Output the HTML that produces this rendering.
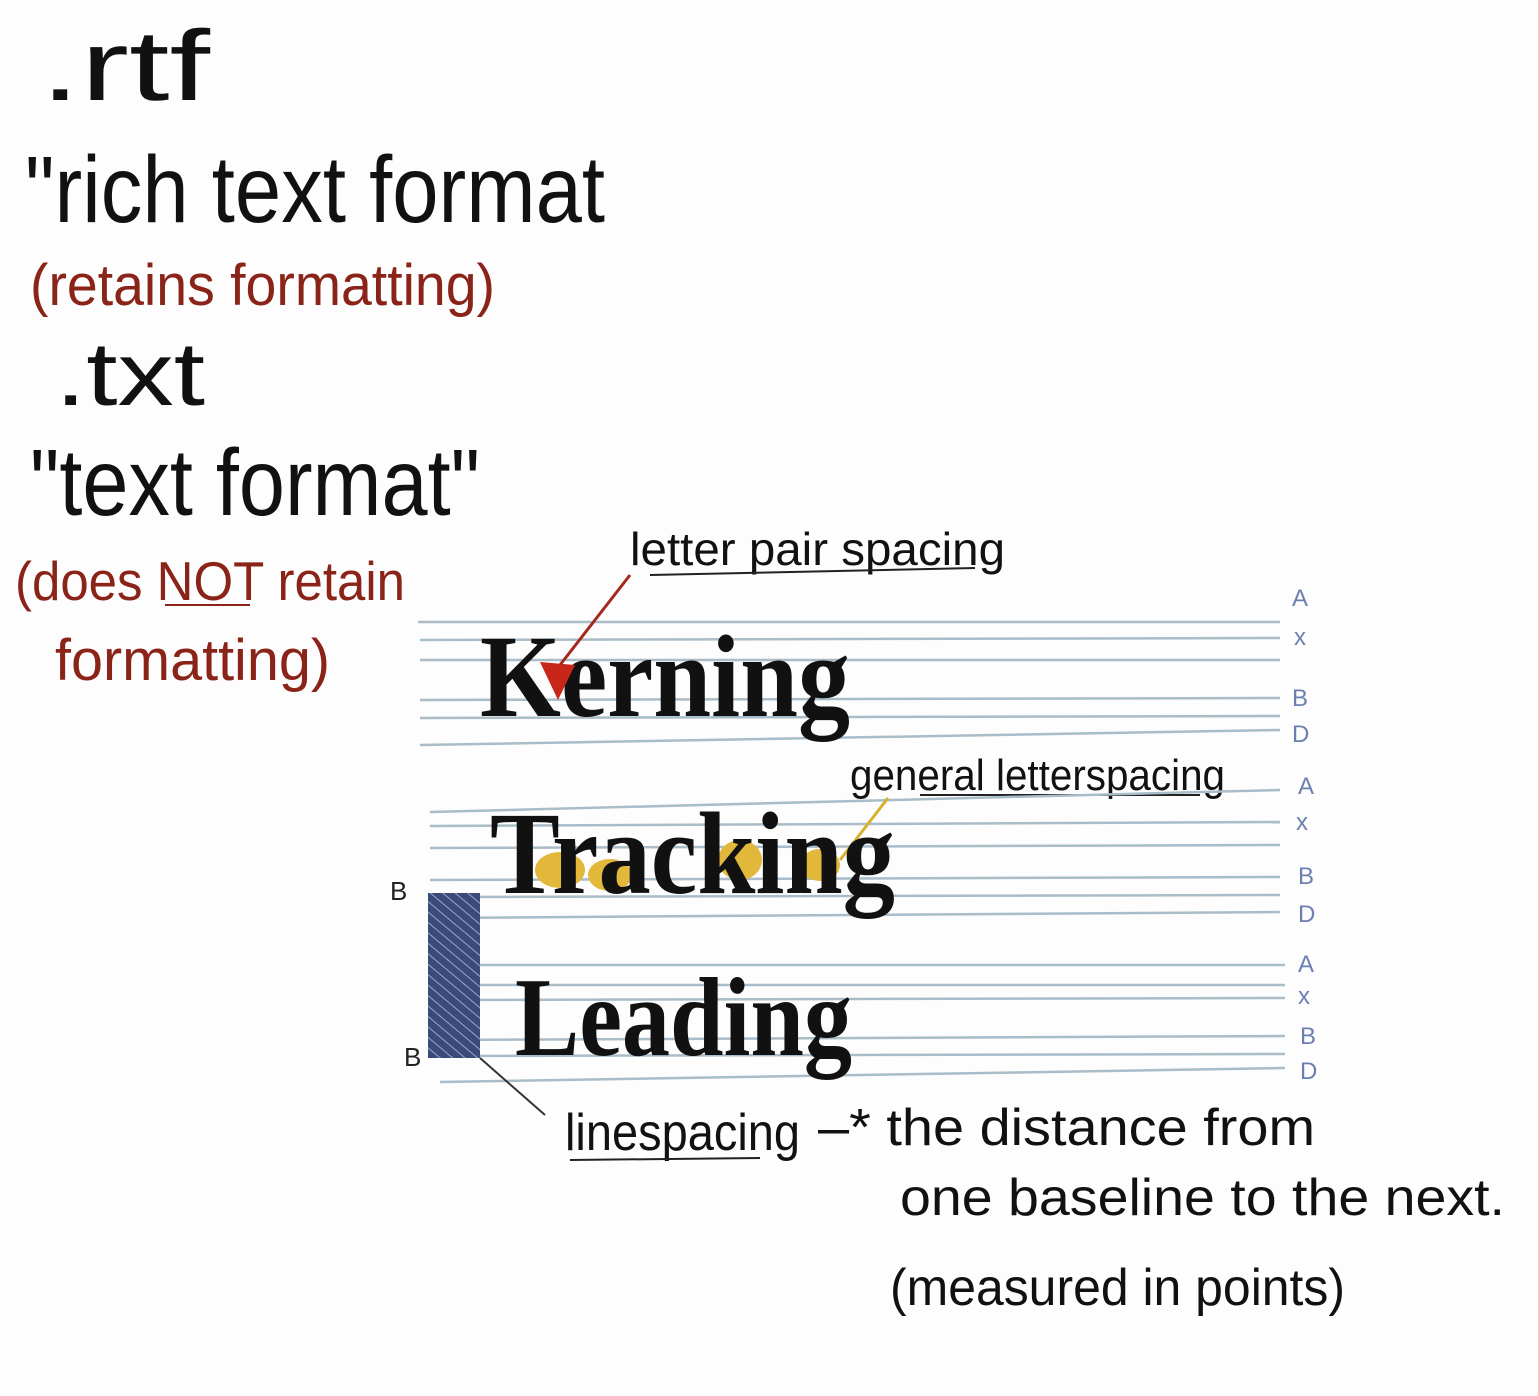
<!DOCTYPE html>
<html><head><meta charset="utf-8"><style>html,body{margin:0;padding:0;background:#fff}svg{display:block}</style></head>
<body>
<svg width="1538" height="1396" viewBox="0 0 1538 1396" xmlns="http://www.w3.org/2000/svg">
<rect width="1538" height="1396" fill="#fdfdfd"/>
<defs>
<pattern id="hatch" width="8" height="8" patternUnits="userSpaceOnUse" patternTransform="rotate(-50)">
<rect width="8" height="8" fill="#3a4a7a"/><line x1="0" y1="0" x2="0" y2="8" stroke="#9aa6c8" stroke-width="2"/>
</pattern>
</defs>
<g font-family="Liberation Sans, sans-serif" fill="#111">
<text x="40" y="100" font-size="100" textLength="170" lengthAdjust="spacingAndGlyphs">.rtf</text>
<text x="25" y="222" font-size="95" textLength="580" lengthAdjust="spacingAndGlyphs">"rich text format</text>
<text x="30" y="305" font-size="58" fill="#8a2318" textLength="465" lengthAdjust="spacingAndGlyphs">(retains formatting)</text>
<text x="55" y="405" font-size="90" textLength="150" lengthAdjust="spacingAndGlyphs">.txt</text>
<text x="30" y="515" font-size="95" textLength="450" lengthAdjust="spacingAndGlyphs">"text format"</text>
<text x="15" y="600" font-size="55" fill="#8a2318" textLength="390" lengthAdjust="spacingAndGlyphs">(does NOT retain</text>
<text x="55" y="680" font-size="58" fill="#8a2318" textLength="275" lengthAdjust="spacingAndGlyphs">formatting)</text>
<text x="630" y="565" font-size="46" textLength="375" lengthAdjust="spacingAndGlyphs">letter pair spacing</text>
<text x="850" y="790" font-size="44" textLength="375" lengthAdjust="spacingAndGlyphs">general letterspacing</text>
<text x="565" y="1150" font-size="52" textLength="235" lengthAdjust="spacingAndGlyphs">linespacing</text>
<text x="818" y="1145" font-size="52" textLength="497" lengthAdjust="spacingAndGlyphs">–* the distance from</text>
<text x="900" y="1215" font-size="52" textLength="605" lengthAdjust="spacingAndGlyphs">one baseline to the next.</text>
<text x="890" y="1305" font-size="52" textLength="455" lengthAdjust="spacingAndGlyphs">(measured in points)</text>
</g>
<g stroke="#222" stroke-width="2">
<line x1="165" y1="605" x2="250" y2="605" stroke="#8a2318"/>
<line x1="650" y1="575" x2="975" y2="568"/>
<line x1="920" y1="795" x2="1200" y2="795"/>
<line x1="570" y1="1160" x2="760" y2="1158"/>
</g>
<g stroke="#a9bcc8" stroke-width="2.5">
<line x1="418" y1="622" x2="1280" y2="622"/><line x1="420" y1="640" x2="1280" y2="638"/><line x1="420" y1="660" x2="1280" y2="660"/>
<line x1="420" y1="700" x2="1280" y2="698"/><line x1="420" y1="718" x2="1280" y2="716"/><line x1="420" y1="745" x2="1280" y2="730"/>
<line x1="430" y1="812" x2="1280" y2="790"/><line x1="430" y1="826" x2="1280" y2="822"/><line x1="430" y1="848" x2="1280" y2="845"/>
<line x1="430" y1="880" x2="1280" y2="877"/><line x1="430" y1="897" x2="1280" y2="895"/><line x1="430" y1="918" x2="1280" y2="912"/>
<line x1="440" y1="965" x2="1285" y2="965"/><line x1="440" y1="985" x2="1285" y2="985"/><line x1="440" y1="1000" x2="1285" y2="998"/>
<line x1="440" y1="1040" x2="1285" y2="1036"/><line x1="440" y1="1056" x2="1285" y2="1054"/><line x1="440" y1="1082" x2="1285" y2="1068"/>
</g>
<g font-family="Liberation Sans, sans-serif" font-size="24" fill="#6c7fb0">
<text x="1292" y="606">A</text><text x="1294" y="645">x</text><text x="1292" y="706">B</text><text x="1292" y="742">D</text>
<text x="1298" y="794">A</text><text x="1296" y="830">x</text><text x="1298" y="884">B</text><text x="1298" y="922">D</text>
<text x="1298" y="972">A</text><text x="1298" y="1004">x</text><text x="1300" y="1044">B</text><text x="1300" y="1079">D</text>
</g>
<rect x="428" y="893" width="52" height="165" fill="url(#hatch)"/>
<g font-family="Liberation Sans, sans-serif" font-size="26" fill="#222"><text x="390" y="900">B</text><text x="404" y="1066">B</text></g>
<line x1="480" y1="1058" x2="545" y2="1115" stroke="#333" stroke-width="2"/>
<ellipse cx="560" cy="870" rx="25" ry="18" fill="#e2b83a"/><ellipse cx="610" cy="875" rx="22" ry="16" fill="#e2b83a"/><ellipse cx="740" cy="860" rx="22" ry="20" fill="#e2b83a"/><ellipse cx="820" cy="865" rx="20" ry="16" fill="#e2b83a"/>
<line x1="888" y1="798" x2="840" y2="860" stroke="#d8b030" stroke-width="3"/>
<g font-family="Liberation Serif, serif" font-weight="bold" fill="#111">
<text x="480" y="716" font-size="118" textLength="370" lengthAdjust="spacingAndGlyphs">Kerning</text>
<text x="490" y="893" font-size="118" textLength="405" lengthAdjust="spacingAndGlyphs">Tracking</text>
<text x="515" y="1055" font-size="112" textLength="337" lengthAdjust="spacingAndGlyphs">Leading</text>
</g>
<polygon points="540,662 575,665 558,700" fill="#c8261a"/>
<line x1="630" y1="575" x2="560" y2="665" stroke="#a32a1c" stroke-width="3"/>
</svg>
</body></html>
